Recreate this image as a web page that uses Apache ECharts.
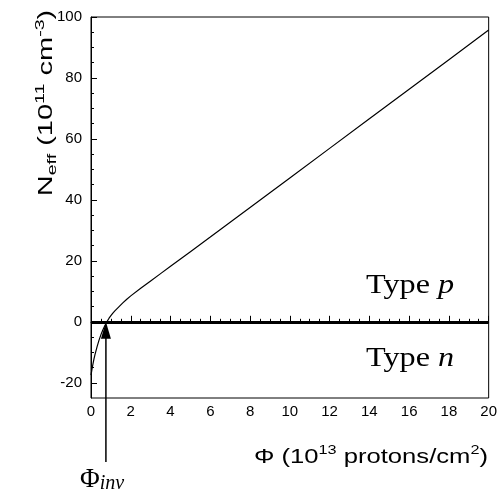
<!DOCTYPE html>
<html>
<head>
<meta charset="utf-8">
<script src="https://cdn.jsdelivr.net/npm/echarts@6/dist/echarts.min.js"></script>
<style>
html,body{margin:0;padding:0;background:#fff;}
#chart{width:500px;height:494px;}
</style>
</head>
<body>
<div id="chart"></div>
<script>
// Data
const phi  = [0, 0.05, 0.1, 0.15, 0.2, 0.3, 0.4, 0.5, 0.6, 0.7, 0.8, 0.9, 1.0, 1.1, 1.2, 1.4, 1.6, 1.8, 2.0, 2.5, 3, 3.5, 4, 5, 6, 8, 10, 12, 14, 16, 18, 20];
const neff = [-17.5, -15.5, -13.8, -12.2, -10.8, -8.3, -6.1, -4.2, -2.6, -1.2, 0, 1.1, 2.0, 2.85, 3.6, 4.9, 6.2, 7.4, 8.5, 11.0, 13.4, 15.8, 18.2, 23.0, 27.8, 37.5, 47.2, 56.9, 66.6, 76.3, 86.0, 95.7];
const yMajorTicks = [-20, 0, 20, 40, 60, 80, 100];
const yMinorTicks = [-15, -10, -5, 5, 10, 15, 25, 30, 35, 45, 50, 55, 65, 70, 75, 85, 90, 95];
const phiInv = 0.75;
const typeLabels = [
  {text: 'Type ', it: 'p', x: 16.05, y: 12},
  {text: 'Type ', it: 'n', x: 16.05, y: -12}
];

const chart = echarts.init(document.getElementById('chart'));
const lineData = phi.map((v, i) => [v, neff[i]]);

chart.setOption({
  animation: false,
  backgroundColor: '#fff',
  grid: {left: 91, right: 11, top: 17, bottom: 96, show: true, borderColor: '#000', borderWidth: 1, backgroundColor: 'transparent'},
  xAxis: {
    type: 'value', min: 0, max: 20, interval: 2,
    axisLine: {show: true, lineStyle: {color: '#000', width: 1}},
    axisTick: {show: true, inside: true, length: 6, lineStyle: {color: '#000'}},
    minorTick: {show: true, splitNumber: 4, length: 3, lineStyle: {color: '#000'}},
    axisLabel: {color: '#000', fontSize: 15, fontFamily: 'Liberation Sans', margin: 6},
    splitLine: {show: false}
  },
  yAxis: [{
    type: 'value', min: -25, max: 100,
    axisLine: {show: true, lineStyle: {color: '#000', width: 1}},
    axisTick: {show: true, inside: true, length: 6, customValues: yMajorTicks, lineStyle: {color: '#000'}},
    axisLabel: {color: '#000', fontSize: 15, fontFamily: 'Liberation Sans', margin: 9, customValues: yMajorTicks},
    splitLine: {show: false}
  }, {
    type: 'value', min: -25, max: 100, position: 'left',
    axisLine: {show: false},
    axisTick: {show: true, inside: true, length: 3, customValues: yMinorTicks, lineStyle: {color: '#000'}},
    axisLabel: {show: false},
    splitLine: {show: false}
  }],
  series: [{
    type: 'line',
    data: lineData,
    showSymbol: false,
    smooth: false,
    lineStyle: {color: '#000', width: 1.2},
    z: 3,
    markLine: {
      silent: true,
      symbol: ['none', 'none'],
      label: {show: false},
      lineStyle: {color: '#000', width: 3, type: 'solid'},
      data: [{yAxis: 0}]
    }
  }]
});

const p0 = chart.convertToPixel({xAxisIndex: 0, yAxisIndex: 0}, [phiInv, 0]);
const ax = p0[0], ay = p0[1];
const graphics = [
  {type: 'line', shape: {x1: ax, y1: ay + 14, x2: ax, y2: 462}, style: {stroke: '#000', lineWidth: 1.5}, z: 10},
  {type: 'polygon', shape: {points: [[ax, ay], [ax - 5, ay + 17], [ax + 5, ay + 17]]}, style: {fill: '#000'}, z: 10},
  {type: 'text', x: 80, y: 466, z: 10, style: {
    text: '{a|Φ}{b|inv}', rich: {
      a: {fontFamily: 'Liberation Serif', fontSize: 27, lineHeight: 28, fill: '#000'},
      b: {fontFamily: 'Liberation Serif', fontStyle: 'italic', fontSize: 20, lineHeight: 14, verticalAlign: 'bottom', fill: '#000'}
    }}},
  {type: 'text', x: 488, y: 457, scaleX: 1.25, z: 10, style: {
    text: '{m|Φ (10}{s|13}{m| protons/cm}{s|2}{m|)}', align: 'right', verticalAlign: 'middle', rich: {
      m: {fontFamily: 'Liberation Sans', fontSize: 20.5, lineHeight: 26, fill: '#000'},
      s: {fontFamily: 'Liberation Sans', fontSize: 13, lineHeight: 14, verticalAlign: 'top', fill: '#000'}
    }}},
  {type: 'text', x: 46, y: 103, rotation: Math.PI / 2, scaleX: 1.45, z: 10, style: {
    text: '{m|N}{d|eff}{m| (10}{s|11}{m| cm}{s|-3}{m|)}', align: 'center', verticalAlign: 'middle', rich: {
      m: {fontFamily: 'Liberation Sans', fontSize: 20, lineHeight: 26, fill: '#000'},
      s: {fontFamily: 'Liberation Sans', fontSize: 13.5, lineHeight: 14, verticalAlign: 'top', fill: '#000'},
      d: {fontFamily: 'Liberation Sans', fontSize: 13.5, lineHeight: 14, verticalAlign: 'bottom', fill: '#000'}
    }}}
];
typeLabels.forEach(t => {
  const p = chart.convertToPixel({xAxisIndex: 0, yAxisIndex: 0}, [t.x, t.y]);
  graphics.push({type: 'text', x: p[0], y: p[1], scaleX: 1.15, z: 10, style: {
    text: '{r|' + t.text + '}{i|' + t.it + '}', align: 'center', verticalAlign: 'middle', rich: {
      r: {fontFamily: 'Liberation Serif', fontSize: 28, fill: '#000'},
      i: {fontFamily: 'Liberation Serif', fontStyle: 'italic', fontSize: 28, fill: '#000'}
    }}});
});
chart.setOption({graphic: graphics});
</script>
</body>
</html>
